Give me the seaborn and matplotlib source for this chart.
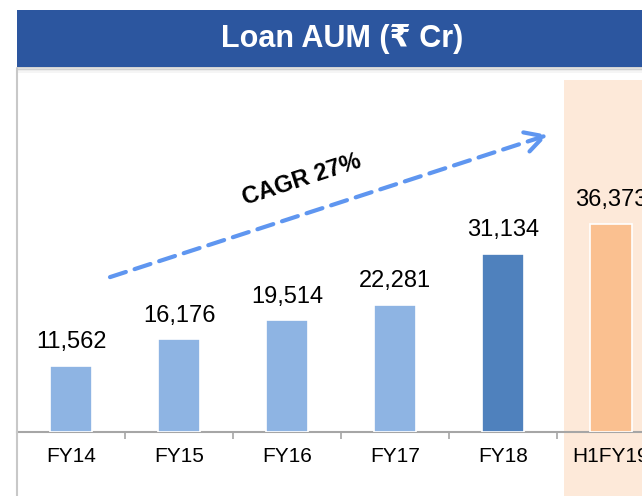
import matplotlib
matplotlib.use("Agg")
import matplotlib.pyplot as plt
from matplotlib.patches import Rectangle
from matplotlib.lines import Line2D
import seaborn as sns
import pandas as pd

categories = ["FY14", "FY15", "FY16", "FY17", "FY18", "H1FY19"]
values = [11562, 16176, 19514, 22281, 31134, 36373]
bar_colors = ["#8EB4E3", "#8EB4E3", "#8EB4E3", "#8EB4E3", "#4F81BD", "#FAC090"]
title_text = "Loan AUM (₹ Cr)"
cagr_text = "CAGR 27%"

sns.set_theme(style="white")
plt.rcParams["font.family"] = ["Liberation Sans", "DejaVu Sans"]

W, H = 642, 496
fig = plt.figure(figsize=(W / 100, H / 100), dpi=100)
fig.patch.set_facecolor("white")

# axes: left 17px, right 642px, top 80px, baseline 432px
ax = fig.add_axes([17 / W, (H - 432) / H, 625 / W, 352 / H])
ax.set_facecolor("none")

df = pd.DataFrame({"cat": categories, "val": values})
sns.barplot(data=df, x="cat", y="val", hue="cat", palette=bar_colors,
            legend=False, width=0.39, ax=ax, edgecolor="white",
            linewidth=1.2, zorder=3, saturation=1)

ax.set_xlim(-0.5, 5.287)
ax.set_ylim(0, 61540)

# highlight band for H1FY19
ax.axvspan(4.565, 5.4, ymin=-0.182, ymax=1, color="#FDE9D9", zorder=0,
           clip_on=False, lw=0)

for cont in ax.containers:
    ax.bar_label(cont, labels=[f"{v:,.0f}" for v in cont.datavalues],
                 padding=9, fontsize=17, color="black")

ax.set_xlabel("")
ax.set_ylabel("")
ax.set_yticks([])
ax.tick_params(axis="x", which="major", length=0, pad=11, labelsize=15,
               labelcolor="black")
ax.set_xticks([0.5, 1.5, 2.5, 3.5, 4.5], minor=True)
ax.tick_params(axis="x", which="minor", length=5, width=1.2, color="#A6A6A6",
               direction="out", bottom=True)
for s in ["top", "right", "left"]:
    ax.spines[s].set_visible(False)
ax.spines["bottom"].set_color("#A6A6A6")
ax.spines["bottom"].set_linewidth(1.5)

# CAGR arrow
ax.annotate("", xy=(0.8496, 0.844), xytext=(0.1488, 0.440),
            xycoords="axes fraction", textcoords="axes fraction",
            arrowprops=dict(arrowstyle="->,head_length=1.1,head_width=0.6",
                            color="#5F96F0", lw=3, linestyle=(0, (4, 2.2)),
                            shrinkA=0, shrinkB=0), zorder=4)
ax.text(0.455, 0.716, cagr_text, transform=ax.transAxes, rotation=18,
        ha="center", va="center", fontsize=17, fontweight="bold",
        color="black", rotation_mode="anchor")

# left vertical frame line
fig.add_artist(Line2D([17 / W, 17 / W], [0, (H - 68) / H], color="#C8C8C8",
                      lw=1.5, transform=fig.transFigure))

# title bar shadow
for i, a in enumerate([0.35, 0.25, 0.15, 0.08]):
    fig.add_artist(Rectangle((17 / W, (H - 68 - i * 1.5) / H), 1, 1.5 / H,
                             transform=fig.transFigure, color="#808080",
                             alpha=a, lw=0))
# title bar
fig.add_artist(Rectangle((17 / W, (H - 67) / H), 1, 57 / H,
                         transform=fig.transFigure, color="#2C569F", lw=0))
fig.text(342 / W, (H - 39) / H, title_text, color="white", fontsize=22,
         fontweight="bold", ha="center", va="center")

fig.savefig("out.png", dpi=100, facecolor="white")
